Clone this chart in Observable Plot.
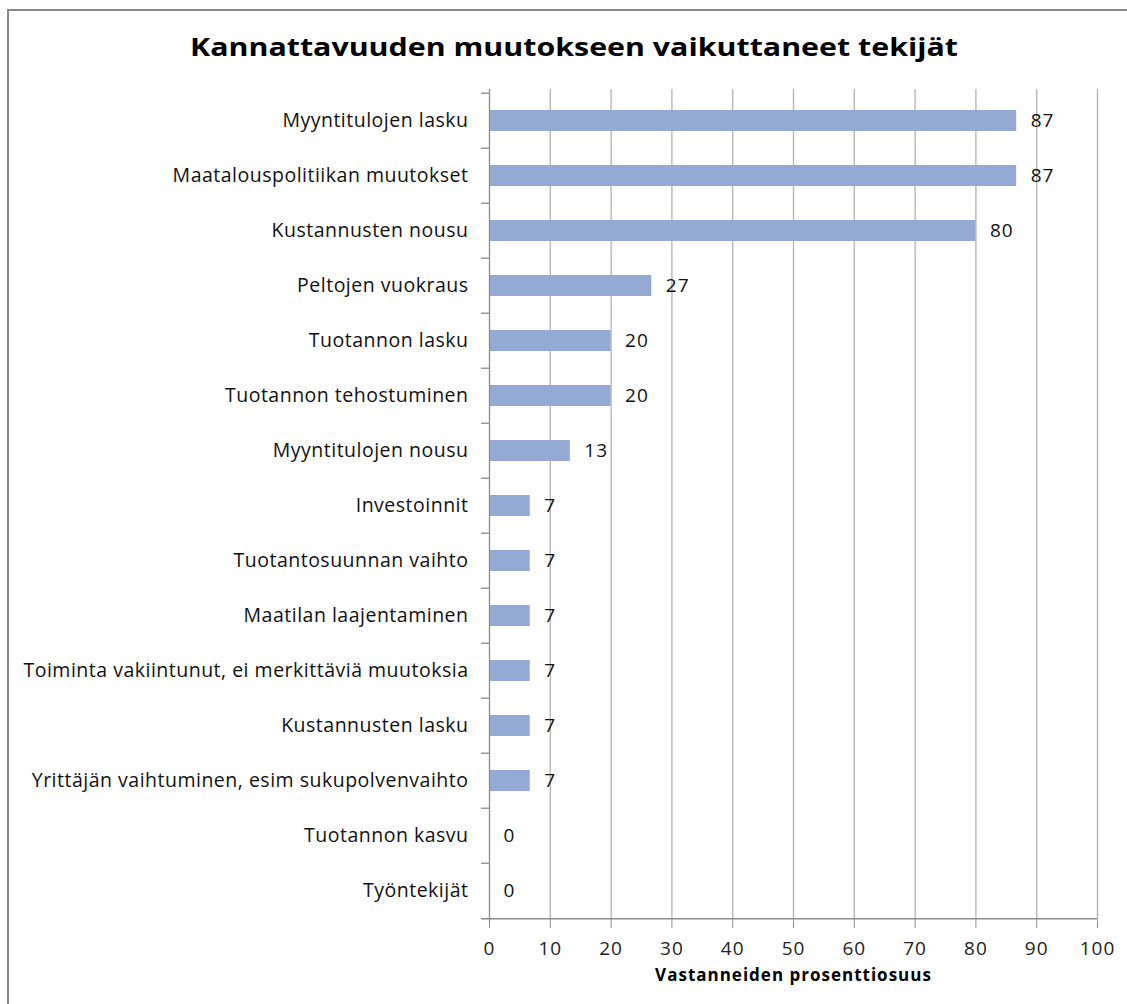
<!DOCTYPE html>
<html>
<head>
<meta charset="utf-8">
<script src="https://cdn.jsdelivr.net/npm/d3@7"></script>
<script src="https://cdn.jsdelivr.net/npm/@observablehq/plot@0.6"></script>
<style>
  body { margin: 0; background: #fff; }
  #wrap { position: relative; width: 1127px; height: 1004px; overflow: hidden; background: #fff; }
  #frame { position: absolute; left: 7px; top: 9px; width: 1300px; height: 1200px;
           border-left: 2px solid #8a8a8a; border-top: 2px solid #8a8a8a; }
  #title { position: absolute; left: 0; top: 0; }
  #chart { position: absolute; left: 0; top: 70px; }
  #chart svg text { letter-spacing: 1px; }
  #chart svg g[aria-label="y-axis tick label"] text { letter-spacing: 0.5px; }
</style>
</head>
<body>
<div id="wrap">
  <div id="frame"></div>
  <svg id="title" width="1127" height="70">
    <text x="574" y="56" text-anchor="middle" textLength="768" lengthAdjust="spacingAndGlyphs"
          font-family="Open Sans, sans-serif" font-weight="bold" font-size="25" fill="#000">Kannattavuuden muutokseen vaikuttaneet tekijät</text>
  </svg>
  <div id="chart"></div>
</div>
<script>
const categories = [
  "Myyntitulojen lasku",
  "Maatalouspolitiikan muutokset",
  "Kustannusten nousu",
  "Peltojen vuokraus",
  "Tuotannon lasku",
  "Tuotannon tehostuminen",
  "Myyntitulojen nousu",
  "Investoinnit",
  "Tuotantosuunnan vaihto",
  "Maatilan laajentaminen",
  "Toiminta vakiintunut, ei merkittäviä muutoksia",
  "Kustannusten lasku",
  "Yrittäjän vaihtuminen, esim sukupolvenvaihto",
  "Tuotannon kasvu",
  "Työntekijät"
];
const values = [86.7, 86.7, 80, 26.7, 20, 20, 13.3, 6.7, 6.7, 6.7, 6.7, 6.7, 6.7, 0, 0];
const xTicks = [0, 10, 20, 30, 40, 50, 60, 70, 80, 90, 100];
const xLabel = "Vastanneiden prosenttiosuus";

const data = categories.map((c, i) => ({cat: c, value: values[i]}));

const W = 1127, H = 934;
const mL = 489, mR = 30, mT = 19, mB = 82;
const plotW = W - mL - mR;
const step = (H - mT - mB) / categories.length;

const chart = Plot.plot({
  width: W,
  height: H,
  marginLeft: mL,
  marginRight: mR,
  marginTop: mT,
  marginBottom: mB,
  style: {fontFamily: "Open Sans, sans-serif", fontSize: "19px", color: "#000", background: "transparent"},
  x: {domain: [0, 100], axis: null},
  y: {domain: categories, padding: 0, axis: null},
  marks: [
    Plot.ruleX(xTicks.filter(d => d > 0), {stroke: "#b3b3b3", strokeWidth: 1.3}),
    Plot.barX(data, {x: "value", y: "cat", fill: "#94aad4", insetTop: 17, insetBottom: 17}),
    Plot.ruleX([0], {stroke: "#8c8c8c", strokeWidth: 1.3}),
    Plot.ruleY(categories, {dy: -step / 2, insetLeft: -8, insetRight: plotW, stroke: "#8c8c8c", strokeWidth: 1.3}),
    Plot.ruleY([categories[categories.length - 1]], {dy: step / 2, insetLeft: -8, stroke: "#8c8c8c", strokeWidth: 1.3}),
    Plot.axisX({ticks: xTicks, tickSize: 6, tickPadding: 13, stroke: "#8c8c8c", fill: "#222", label: null, fontSize: 19}),
    Plot.axisY({tickSize: 0, tickPadding: 21, fill: "#111", label: null, fontSize: 19.5}),
    Plot.text(data, {x: "value", y: "cat", text: d => String(Math.round(d.value)), dx: 14, textAnchor: "start", fill: "#111", fontSize: 19}),
    Plot.text([xLabel], {frameAnchor: "bottom", dy: 58, text: d => d, fontWeight: "bold", fontSize: 17, fill: "#000"})
  ]
});
document.getElementById("chart").appendChild(chart);
</script>
</body>
</html>
